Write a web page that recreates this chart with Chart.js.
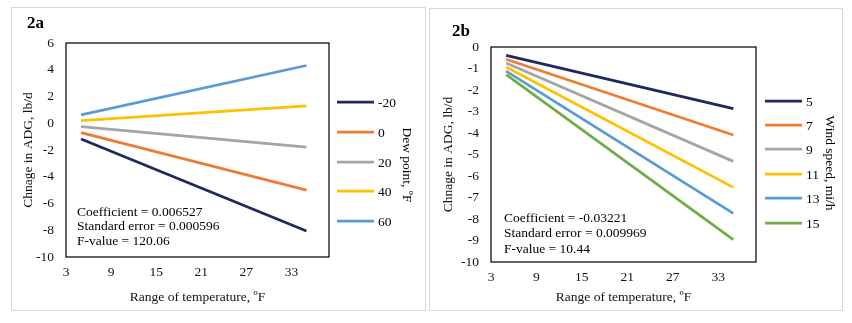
<!DOCTYPE html>
<html>
<head>
<meta charset="utf-8">
<script src="https://cdn.jsdelivr.net/npm/chart.js@4/dist/chart.umd.min.js"></script>
<style>
  body { margin: 0; background: #fff; width: 852px; height: 323px; position: relative; overflow: hidden; }
  .panel { position: absolute; border: 1px solid #d9d9d9; box-sizing: border-box; }
  #p1 { left: 11px; top: 7px; width: 415px; height: 304px; }
  #p2 { left: 429px; top: 8px; width: 414px; height: 303px; }
  canvas { position: absolute; left: 0; top: 0; }
</style>
</head>
<body>
<div class="panel" id="p1"><canvas id="chartA" width="413" height="302"></canvas></div>
<div class="panel" id="p2"><canvas id="chartB" width="412" height="301"></canvas></div>
<script>
// temperature range (x), start and end of each line
var xVals = [5, 35];
var xTicks = [3, 9, 15, 21, 27, 33];

// 2a - dew point series
var dewLabels = ["-20", "0", "20", "40", "60"];
var dewM20 = [-1.18, -8.05];
var dew0 = [-0.7, -5.0];
var dew20 = [-0.25, -1.78];
var dew40 = [0.2, 1.3];
var dew60 = [0.62, 4.32];
var yTicksA = [-10, -8, -6, -4, -2, 0, 2, 4, 6];

// 2b - wind speed series
var windLabels = ["5", "7", "9", "11", "13", "15"];
var wind5 = [-0.39, -2.87];
var wind7 = [-0.57, -4.09];
var wind9 = [-0.74, -5.32];
var wind11 = [-0.93, -6.53];
var wind13 = [-1.12, -7.74];
var wind15 = [-1.29, -8.96];
var yTicksB = [-10, -9, -8, -7, -6, -5, -4, -3, -2, -1, 0];

var colors = ["#1f2a5c", "#ed7d31", "#a5a5a5", "#ffc000", "#5b9bd5", "#70ad47"];
var serif = "'Liberation Serif', 'Times New Roman', serif";

function pts(ys) {
  return ys.map(function (y, i) { return { x: xVals[i], y: y }; });
}

function makeSets(labels, series) {
  return series.map(function (s, i) {
    return {
      label: labels[i],
      data: pts(s),
      borderColor: colors[i],
      backgroundColor: colors[i],
      borderWidth: 2.75,
      pointRadius: 0,
      fill: false,
    };
  });
}

// plot frame, panel label, stats text and the legend with its vertical title
var decor = {
  id: "decor",
  afterDraw: function (chart, args, o) {
    var ctx = chart.ctx;
    var a = chart.chartArea;
    ctx.save();
    ctx.strokeStyle = "#000";
    ctx.lineWidth = 1.2;
    ctx.strokeRect(a.left, a.top, a.right - a.left, a.bottom - a.top);

    ctx.fillStyle = "#000";
    ctx.font = "bold 17px " + serif;
    ctx.textBaseline = "middle";
    ctx.textAlign = "left";
    ctx.fillText(o.tag, o.tagX, o.tagY);

    ctx.font = "13.5px " + serif;
    o.stats.forEach(function (t, i) {
      ctx.fillText(t, o.statX, o.statY + i * o.statGap);
    });

    chart.data.datasets.forEach(function (ds, i) {
      var y = o.legY[i];
      ctx.strokeStyle = ds.borderColor;
      ctx.lineWidth = 2.75;
      ctx.beginPath();
      ctx.moveTo(o.legX, y);
      ctx.lineTo(o.legX + 37, y);
      ctx.stroke();
      ctx.fillStyle = "#000";
      ctx.font = "13.5px " + serif;
      ctx.fillText(ds.label, o.legX + 41, y + 1);
    });

    ctx.translate(o.legTitleX, o.legTitleY);
    ctx.rotate(Math.PI / 2);
    ctx.textAlign = "center";
    ctx.fillText(o.legTitle, 0, 0);
    ctx.restore();
  },
};

function makeChart(id, sets, yMin, yMax, yTicks, yWidth, xHeight, yTitlePad, pad, dec) {
  return new Chart(document.getElementById(id), {
    type: "line",
    data: { datasets: sets },
    plugins: [decor],
    options: {
      responsive: false,
      animation: false,
      layout: { padding: pad },
      plugins: { legend: { display: false }, tooltip: { enabled: false }, decor: dec },
      scales: {
        x: {
          type: "linear",
          min: 3,
          max: 38,
          grid: { display: false, drawTicks: false },
          border: { display: false },
          afterBuildTicks: function (s) { s.ticks = xTicks.map(function (v) { return { value: v }; }); },
          afterFit: function (s) { s.height = xHeight; },
          ticks: { color: "#111", font: { family: serif, size: 13.5 }, padding: 7, maxRotation: 0 },
          title: {
            display: true,
            text: "Range of temperature, ºF",
            color: "#111",
            font: { family: serif, size: 13.5 },
            padding: { top: 0, bottom: 4 },
          },
        },
        y: {
          min: yMin,
          max: yMax,
          grid: { display: false, drawTicks: false },
          border: { display: false },
          afterBuildTicks: function (s) { s.ticks = yTicks.map(function (v) { return { value: v }; }); },
          afterFit: function (s) { s.width = yWidth; },
          ticks: { color: "#111", font: { family: serif, size: 13.5 }, padding: 12 },
          title: {
            display: true,
            text: "Chnage in ADG, lb/d",
            color: "#111",
            font: { family: serif, size: 13.5 },
            padding: { top: yTitlePad, bottom: 0 },
          },
        },
      },
    },
  });
}

makeChart("chartA", makeSets(dewLabels, [dewM20, dew0, dew20, dew40, dew60]), -10, 6, yTicksA,
  54, 53, 8, { left: 0, top: 35, right: 96, bottom: 0 },
  {
    tag: "2a", tagX: 15, tagY: 16,
    stats: ["Coefficient = 0.006527", "Standard error = 0.000596", "F-value = 120.06"],
    statX: 65, statY: 204, statGap: 14.8,
    legX: 325, legY: [94, 124, 154, 183, 213],
    legTitle: "Dew point, ºF", legTitleX: 395, legTitleY: 157,
  });

makeChart("chartB", makeSets(windLabels, [wind5, wind7, wind9, wind11, wind13, wind15]), -10, 0, yTicksB,
  61, 48, 10, { left: 0, top: 38, right: 86, bottom: 0 },
  {
    tag: "2b", tagX: 22, tagY: 23,
    stats: ["Coefficient = -0.03221", "Standard error = 0.009969", "F-value = 10.44"],
    statX: 74, statY: 209, statGap: 15.5,
    legX: 335, legY: [92, 116, 140, 165, 189, 214],
    legTitle: "Wind speed, mi/h", legTitleX: 400, legTitleY: 154,
  });
</script>
</body>
</html>
